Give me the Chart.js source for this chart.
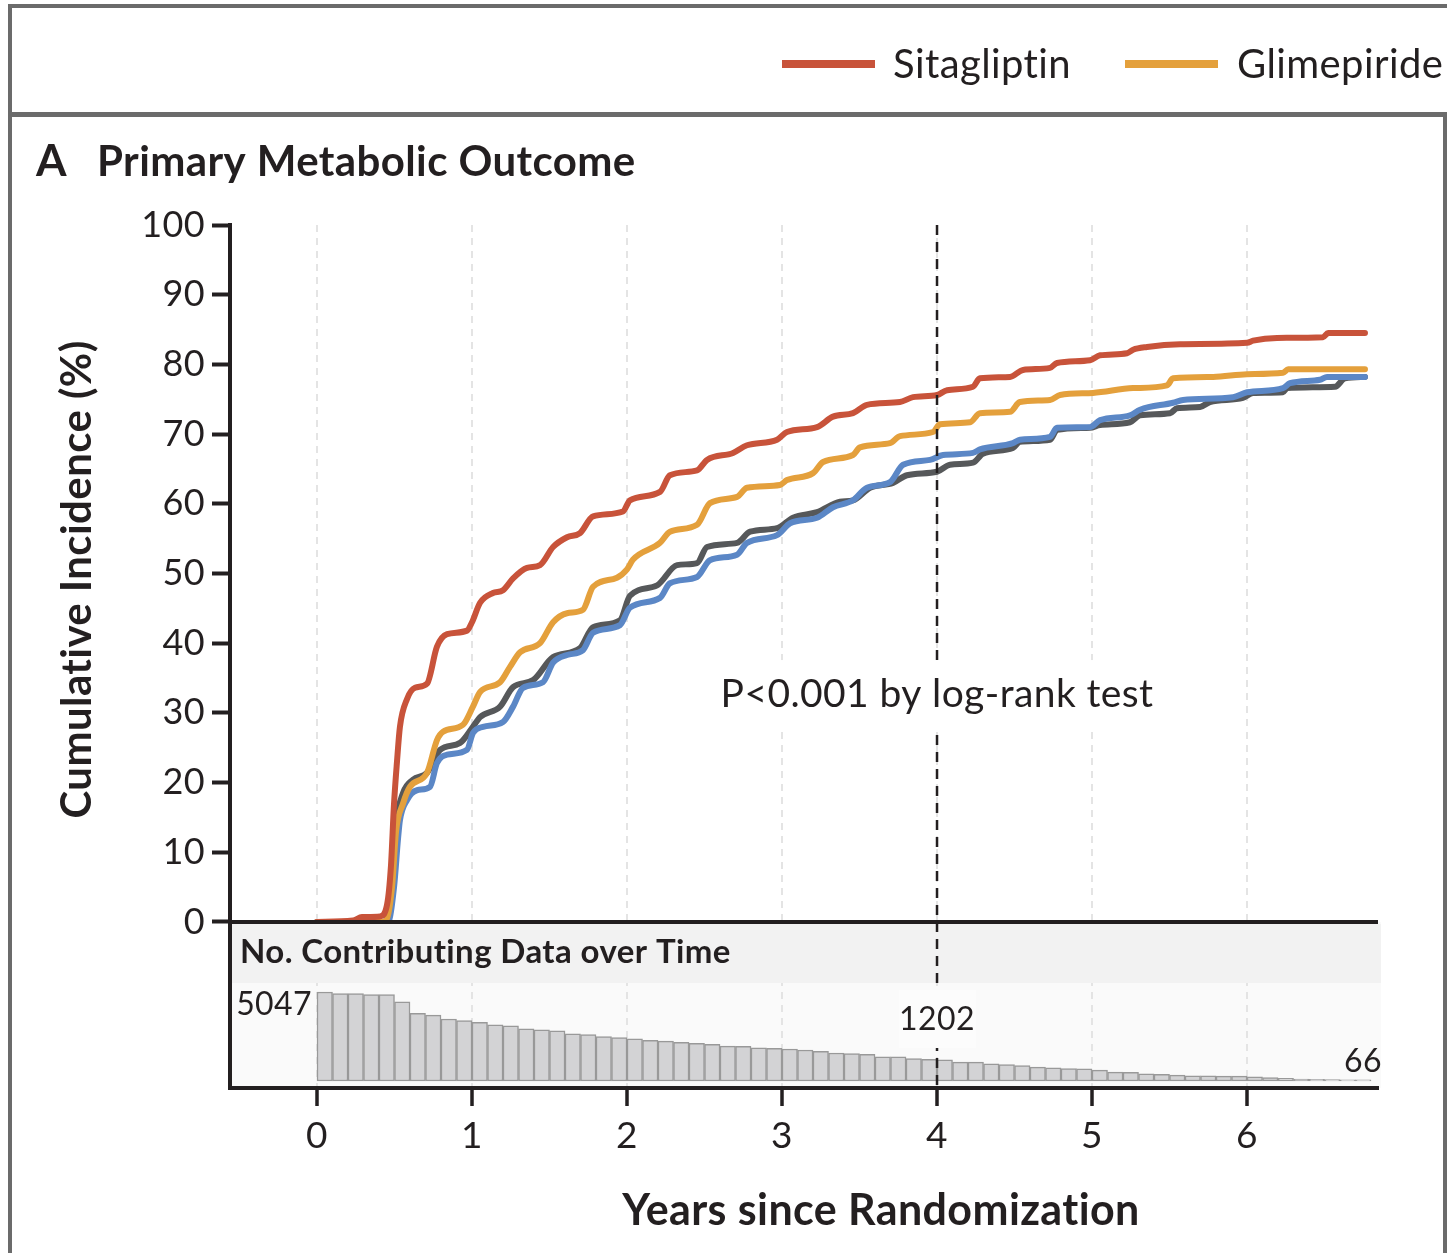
<!DOCTYPE html>
<html>
<head>
<meta charset="utf-8">
<script src="https://cdn.jsdelivr.net/npm/chart.js@4.4.1/dist/chart.umd.min.js"></script>
<style>
  html, body { margin: 0; padding: 0; overflow: hidden; background: #fff; }
  canvas { display: block; }
</style>
</head>
<body>
<canvas id="kmChart" width="1447" height="1253"></canvas>
<script>
// cumulative incidence (%), years since randomization
const sitaYears = [0, 0.232, 0.29, 0.406, 0.452, 0.477, 0.497, 0.516, 0.535, 0.581, 0.632, 0.71, 0.774, 0.839, 0.968, 1.0, 1.052, 1.135, 1.2, 1.265, 1.355, 1.439, 1.523, 1.613, 1.697, 1.781, 1.974, 2.019, 2.213, 2.277, 2.452, 2.516, 2.684, 2.774, 2.968, 3.032, 3.226, 3.329, 3.458, 3.548, 3.761, 3.845, 4.0, 4.065, 4.232, 4.277, 4.471, 4.555, 4.729, 4.774, 4.987, 5.052, 5.226, 5.265, 5.355, 5.568, 6.0, 6.039, 6.194, 6.49, 6.523, 6.761];
const sitaPct   = [0, 0.2, 0.7, 0.8, 2.5, 8, 17, 23, 28, 32, 33.6, 34.2, 39.5, 41.3, 41.8, 43, 45.8, 47.2, 47.6, 49.3, 50.8, 51.2, 53.8, 55.2, 55.8, 58.2, 58.9, 60.5, 61.7, 64.1, 64.8, 66.3, 67.3, 68.4, 69.2, 70.3, 71, 72.5, 73, 74.2, 74.6, 75.3, 75.6, 76.3, 76.8, 78, 78.2, 79.2, 79.5, 80.2, 80.6, 81.3, 81.6, 82.1, 82.5, 82.9, 83.1, 83.4, 83.8, 83.9, 84.5, 84.5];

const glimYears = [0, 0.439, 0.484, 0.51, 0.555, 0.6, 0.71, 0.774, 0.813, 0.942, 1.006, 1.052, 1.181, 1.245, 1.31, 1.439, 1.523, 1.613, 1.716, 1.781, 1.935, 2.0, 2.039, 2.213, 2.277, 2.452, 2.535, 2.71, 2.774, 2.987, 3.032, 3.2, 3.265, 3.458, 3.503, 3.697, 3.761, 3.974, 4.019, 4.213, 4.277, 4.471, 4.535, 4.729, 4.794, 5.006, 5.265, 5.484, 5.523, 5.781, 6.0, 6.232, 6.265, 6.761];
const glimPct   = [0, 0, 5, 13, 17, 19.4, 21.4, 26.1, 27.3, 28.3, 30.9, 33, 34.4, 36.6, 38.7, 40, 43, 44.3, 44.8, 48.1, 49.4, 50.6, 52, 54.4, 56, 57, 60.1, 61, 62.3, 62.7, 63.4, 64.4, 66, 67, 68.1, 68.7, 69.7, 70.3, 71.4, 71.7, 73, 73.2, 74.6, 74.9, 75.6, 75.9, 76.6, 77, 78, 78.2, 78.6, 78.8, 79.3, 79.3];

const liraYears = [0, 0.439, 0.484, 0.51, 0.555, 0.619, 0.71, 0.794, 0.923, 1.006, 1.052, 1.181, 1.265, 1.394, 1.523, 1.697, 1.781, 1.955, 2.019, 2.194, 2.323, 2.452, 2.516, 2.71, 2.794, 2.968, 3.071, 3.226, 3.374, 3.458, 3.568, 3.716, 3.806, 4.0, 4.084, 4.232, 4.297, 4.49, 4.535, 4.729, 4.774, 4.987, 5.052, 5.245, 5.31, 5.503, 5.548, 5.697, 5.761, 5.974, 6.039, 6.232, 6.258, 6.568, 6.632, 6.761];
const liraPct   = [0, 0, 6, 14, 18.5, 20.4, 21.4, 24.7, 25.7, 28, 29.4, 30.9, 33.7, 34.7, 38, 39.3, 42.3, 43.3, 46.8, 48.3, 51.2, 51.5, 53.8, 54.4, 56, 56.5, 58, 58.8, 60.3, 60.5, 62.3, 63, 64.1, 64.6, 65.6, 65.9, 67.2, 68, 68.9, 69.2, 70.6, 70.9, 71.3, 71.7, 72.7, 73, 73.7, 73.9, 74.6, 75.2, 75.9, 76, 76.6, 76.8, 78, 78.2];

const glarYears = [0, 0.458, 0.497, 0.523, 0.535, 0.581, 0.645, 0.729, 0.774, 0.839, 0.968, 1.006, 1.071, 1.2, 1.265, 1.329, 1.458, 1.523, 1.613, 1.716, 1.781, 1.955, 2.019, 2.213, 2.277, 2.452, 2.535, 2.71, 2.774, 2.968, 3.052, 3.226, 3.329, 3.458, 3.548, 3.697, 3.781, 3.955, 4.039, 4.232, 4.277, 4.49, 4.535, 4.729, 4.774, 4.987, 5.052, 5.245, 5.31, 5.523, 5.587, 5.91, 6.0, 6.232, 6.277, 6.471, 6.516, 6.761];
const glarPct   = [0, 0, 5, 12, 14.6, 17.5, 18.9, 19.4, 22.8, 24, 24.7, 27.1, 28, 28.7, 30.9, 33.6, 34.4, 37.2, 38.3, 39, 41.5, 42.6, 45.1, 46.5, 48.6, 49.5, 51.9, 52.7, 54.4, 55.5, 57.2, 58, 59.5, 60.5, 62.3, 63.1, 65.6, 66.3, 67, 67.3, 67.8, 68.7, 69.2, 69.6, 70.9, 71, 72, 72.7, 73.5, 74.5, 74.9, 75.3, 76, 76.6, 77.3, 77.8, 78.2, 78.2];

// number contributing data, one bar per 0.1-year bin
const binWidth = 0.1;
const contributing = [5047, 4953, 4953, 4897, 4897, 4487, 3833, 3740, 3516, 3421,
  3329, 3179, 3123, 2955, 2898, 2842, 2674, 2637, 2524, 2468,
  2393, 2300, 2262, 2188, 2132, 2076, 1982, 1963, 1888, 1851,
  1814, 1760, 1683, 1589, 1552, 1515, 1365, 1365, 1272, 1234,
  1202, 1066, 1066, 972, 935, 879, 785, 748, 711, 692,
  617, 505, 486, 411, 374, 337, 299, 299, 280, 280,
  243, 187, 150, 112, 94, 75, 66, 66];

const yearTicks = [0, 1, 2, 3, 4, 5, 6];
const pctTicks = [0, 10, 20, 30, 40, 50, 60, 70, 80, 90, 100];

const ink = '#231f20';
const frameGray = '#6b6b6b';

function pts(xs, ys) {
    return xs.map((v, i) => ({ x: v, y: ys[i] }));
}

function lineSet(label, xs, ys, color) {
    return {
        type: 'line',
        label: label,
        data: pts(xs, ys),
        borderColor: color,
        backgroundColor: color,
        borderWidth: 6,
        pointRadius: 0,
        cubicInterpolationMode: 'monotone',
        borderCapStyle: 'round',
        borderJoinStyle: 'round',
        yAxisID: 'y'
    };
}

const panelPlugin = {
    id: 'panel',
    beforeDraw(chart) {
        const { ctx, chartArea: a, scales } = chart;
        ctx.letterSpacing = '0.4px';   // also stops the "ti" ligature
        const y0 = scales.y.getPixelForValue(0);
        ctx.save();
        ctx.fillStyle = '#fff';
        ctx.fillRect(0, 0, chart.width, chart.height);

        // outer frame and the strip holding the legend
        ctx.fillStyle = frameGray;
        ctx.fillRect(8, 4, 1439, 4);
        ctx.fillRect(8, 4, 4, 1249);
        ctx.fillRect(8, 112, 1439, 5);
        ctx.fillRect(1443, 112, 4, 1141);

        // legend (only the two visible entries)
        ctx.textBaseline = 'middle';
        ctx.textAlign = 'left';
        ctx.font = '40px Lato';
        ctx.fillStyle = chart.data.datasets[0].borderColor;
        ctx.fillRect(782, 60, 93, 8);
        ctx.fillStyle = chart.data.datasets[1].borderColor;
        ctx.fillRect(1125, 60, 93, 8);
        ctx.fillStyle = ink;
        ctx.fillText(chart.data.datasets[0].label, 893, 65);
        ctx.fillText(chart.data.datasets[1].label, 1237, 65);

        // panel title
        ctx.font = 'bold 44px Lato';
        ctx.fillText('A', 36, 162);
        ctx.font = 'bold 42px Lato';
        ctx.fillText('Primary Metabolic Outcome', 97, 162);

        // lower panel background
        ctx.fillStyle = '#fafafa';
        ctx.fillRect(a.left, y0, a.right + 3 - a.left, a.bottom - y0);
        ctx.restore();
    },
    afterDraw(chart) {
        const { ctx, chartArea: a, scales } = chart;
        const y0 = scales.y.getPixelForValue(0);
        const x4 = scales.x.getPixelForValue(4);
        ctx.save();

        // header band of the lower panel
        ctx.fillStyle = '#f2f2f2';
        ctx.fillRect(a.left + 2, y0 + 2, a.right + 3 - a.left - 2, 59);
        ctx.fillStyle = ink;
        ctx.font = 'bold 33px Lato';
        ctx.textBaseline = 'middle';
        ctx.textAlign = 'left';
        ctx.fillText('No. Contributing Data over Time', a.left + 10, y0 + 30);

        // zero line
        ctx.strokeStyle = ink;
        ctx.lineWidth = 4;
        ctx.beginPath();
        ctx.moveTo(a.left, y0);
        ctx.lineTo(a.right, y0);
        ctx.stroke();

        // dashed line at 4 years
        ctx.lineWidth = 2.5;
        ctx.setLineDash([10, 7]);
        ctx.beginPath();
        ctx.moveTo(x4, a.top);
        ctx.lineTo(x4, a.bottom);
        ctx.stroke();
        ctx.setLineDash([]);

        // p value
        ctx.font = '39px Lato';
        ctx.textAlign = 'center';
        const pText = 'P<0.001 by log-rank test';
        const pY = scales.y.getPixelForValue(32.7);
        const pw = ctx.measureText(pText).width;
        ctx.fillStyle = '#fff';
        ctx.fillRect(x4 - pw / 2 - 6, pY - 34, pw + 12, 68);
        ctx.fillStyle = ink;
        ctx.fillText(pText, x4, pY);

        // counts
        ctx.font = '32px Lato';
        ctx.fillStyle = '#fcfcfc';
        ctx.fillRect(x4 - 38, 990, 77, 58);
        ctx.fillStyle = ink;
        ctx.fillText(String(contributing[40]), x4, 1020);
        ctx.textAlign = 'right';
        ctx.fillText(String(contributing[0]), scales.x.getPixelForValue(0) - 5, 1005);
        ctx.fillText(String(contributing[contributing.length - 1]), a.right + 4, 1062);

        // x title
        ctx.textAlign = 'center';
        ctx.font = 'bold 43px Lato';
        ctx.fillText('Years since Randomization', 881, 1211);

        // y title, centred on the upper panel
        ctx.translate(77, (a.top + y0) / 2 + 6);
        ctx.rotate(-Math.PI / 2);
        ctx.font = 'bold 42px Lato';
        ctx.fillText('Cumulative Incidence (%)', 0, 0);
        ctx.restore();
    }
};

const ctx = document.getElementById('kmChart').getContext('2d');
const chart = new Chart(ctx, {
    type: 'line',
    data: {
        datasets: [
            lineSet('Sitagliptin', sitaYears, sitaPct, '#c8533a'),
            lineSet('Glimepiride', glimYears, glimPct, '#e4a03c'),
            lineSet('Glargine', glarYears, glarPct, '#5b87c6'),
            lineSet('Liraglutide', liraYears, liraPct, '#56585a'),
            {
                type: 'bar',
                label: 'No. contributing',
                data: contributing.map((v, i) => ({ x: i * binWidth + binWidth / 2, y: v })),
                backgroundColor: '#d3d3d5',
                borderColor: '#999999',
                borderWidth: 1.5,
                borderSkipped: false,
                barPercentage: 1,
                categoryPercentage: 1,
                yAxisID: 'yBar'
            }
        ]
    },
    options: {
        responsive: false,
        animation: false,
        devicePixelRatio: 1,
        layout: { padding: { left: 40, right: 69, top: 225, bottom: 15 } },
        plugins: {
            legend: { display: false },
            title: { display: false },
            tooltip: { enabled: false }
        },
        scales: {
            x: {
                type: 'linear',
                position: 'bottom',
                min: -0.5613,
                max: 6.845,
                offset: false,
                afterBuildTicks: s => { s.ticks = yearTicks.map(v => ({ value: v })); },
                afterFit: s => { s.height = 150; },
                grid: {
                    offset: false,
                    color: '#e4e4e4',
                    lineWidth: 2,
                    tickColor: ink,
                    tickWidth: 3.5,
                    tickLength: 18
                },
                border: { display: true, color: ink, width: 4, dash: [7, 6] },
                ticks: {
                    color: ink,
                    padding: 8,
                    font: { family: 'Lato', size: 37 }
                }
            },
            y: {
                position: 'left',
                min: -23.82,
                max: 100,
                afterBuildTicks: s => { s.ticks = pctTicks.map(v => ({ value: v })); },
                afterFit: s => { s.width = 190; },
                grid: {
                    drawOnChartArea: false,
                    tickColor: ink,
                    tickWidth: 4,
                    tickLength: 18
                },
                border: { display: true, color: ink, width: 4 },
                ticks: {
                    color: ink,
                    padding: 7,
                    font: { family: 'Lato', size: 36 }
                }
            },
            yBar: {
                display: false,
                position: 'left',
                min: -397,
                max: 48543
            }
        }
    },
    plugins: [panelPlugin]
});
</script>
</body>
</html>
